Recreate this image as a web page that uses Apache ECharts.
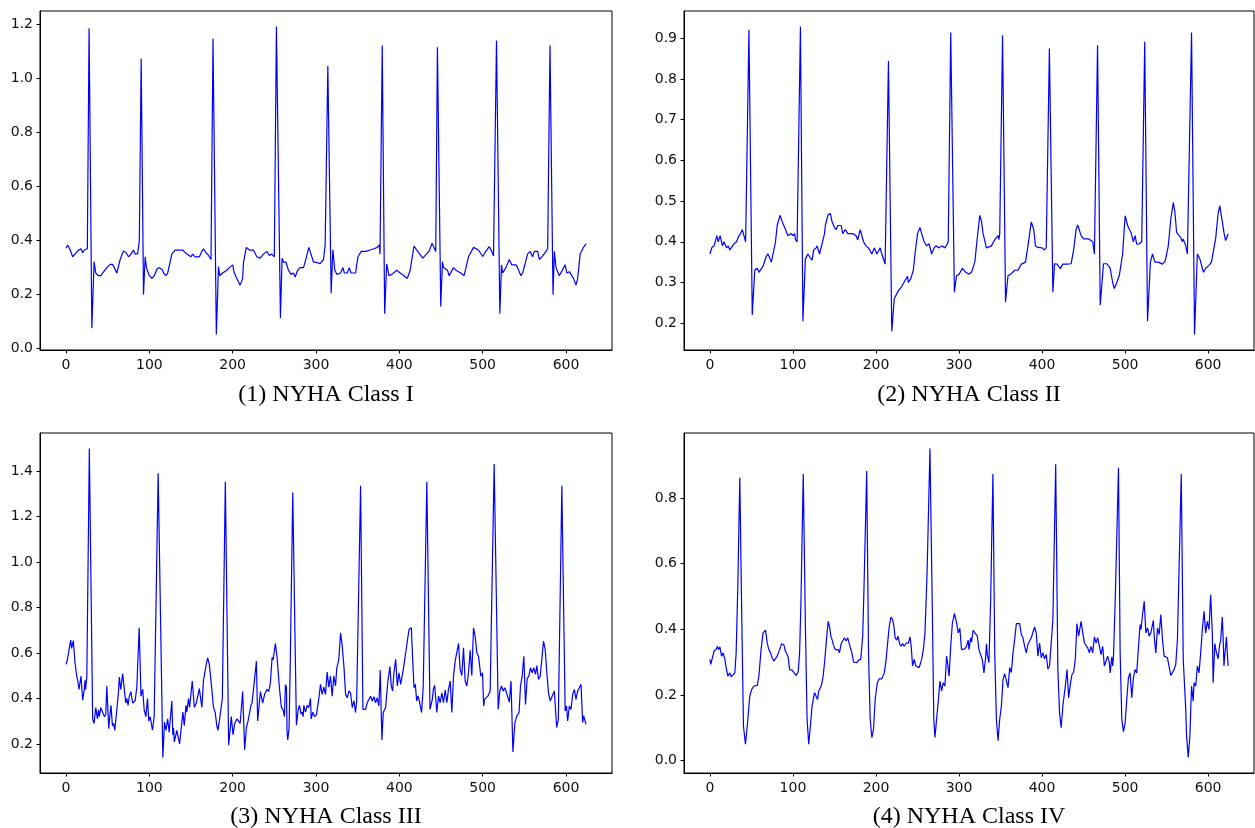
<!DOCTYPE html>
<html>
<head>
<meta charset="utf-8">
<title>ECG segments by NYHA class</title>
<script src="https://cdn.jsdelivr.net/npm/echarts@6/dist/echarts.min.js"></script>
<style>
  html, body { margin: 0; padding: 0; background: #fff; }
  #chart { width: 1255px; height: 828px; }
</style>
</head>
<body>
<div id="chart"></div>
<script>
// ECG amplitude traces, [sample index, amplitude]
const ecgClassI = [[0,0.372],[2,0.384],[5,0.366],[6,0.36],[8,0.34],[10,0.342],[14,0.362],[18,0.37],[20,0.355],[22,0.365],[24,0.37],[25.6,0.37],[27.7,1.186],[31,0.076],[33.7,0.322],[35.7,0.28],[39,0.27],[42,0.27],[44,0.28],[49,0.3],[53,0.312],[56,0.312],[61,0.28],[65,0.33],[69,0.362],[72,0.355],[75,0.34],[78,0.35],[81,0.365],[83,0.35],[86,0.352],[88,0.4],[90.2,1.073],[93,0.2],[95,0.34],[96.5,0.3],[100,0.27],[103,0.26],[106,0.27],[109,0.295],[112,0.3],[116,0.29],[117,0.28],[120,0.27],[122,0.28],[127,0.35],[131,0.365],[140,0.365],[145,0.35],[150,0.34],[152,0.35],[155,0.34],[160,0.34],[163,0.36],[165,0.37],[168,0.355],[171,0.345],[174,0.33],[176.4,1.147],[180.4,0.052],[183,0.304],[184.5,0.27],[188,0.28],[190,0.275],[193,0.29],[196,0.3],[198,0.295],[200,0.31],[202,0.28],[205,0.26],[209,0.235],[212,0.26],[213,0.32],[216.4,0.375],[220,0.365],[225,0.365],[229,0.34],[233,0.335],[237,0.35],[241,0.36],[244,0.345],[247,0.35],[250,0.34],[252.5,1.193],[257.3,0.113],[259.3,0.335],[261,0.32],[264,0.32],[267,0.29],[270,0.275],[273,0.28],[275,0.265],[278,0.29],[281,0.3],[285,0.3],[288.6,0.34],[291.4,0.375],[294,0.35],[297,0.32],[300,0.32],[305,0.315],[309,0.33],[311,0.384],[314.2,1.046],[318.2,0.205],[320.2,0.366],[322.6,0.29],[325,0.275],[329.5,0.28],[332.3,0.3],[334,0.28],[337.5,0.28],[340,0.3],[342,0.28],[347.5,0.28],[350.3,0.34],[354.3,0.36],[360,0.36],[364.7,0.365],[369.5,0.37],[373.5,0.375],[376,0.384],[376.8,0.35],[379.5,1.122],[382.4,0.129],[384.8,0.314],[387.6,0.27],[391,0.275],[396.8,0.29],[401,0.28],[405.6,0.27],[409.6,0.26],[413,0.29],[417.6,0.38],[421,0.365],[425.7,0.345],[428,0.335],[435.6,0.36],[439.3,0.39],[441,0.385],[443.7,0.36],[445.7,1.116],[449.7,0.156],[451.7,0.322],[453,0.3],[457.8,0.29],[459.8,0.27],[465,0.3],[468,0.29],[470,0.29],[473.7,0.28],[477.7,0.27],[483,0.34],[489,0.375],[495,0.365],[500,0.341],[503.8,0.36],[507.8,0.378],[511,0.36],[513,0.343],[516.6,1.141],[520.6,0.129],[522.6,0.31],[524,0.28],[527.9,0.3],[531.9,0.33],[535,0.31],[540,0.31],[541.9,0.3],[545.9,0.27],[548,0.28],[553.9,0.35],[557,0.36],[559.9,0.34],[562,0.36],[566,0.36],[568,0.33],[571,0.34],[576,0.36],[578,0.37],[580.8,1.122],[584.4,0.2],[586,0.36],[588,0.3],[592,0.27],[599,0.31],[601,0.28],[604,0.285],[609,0.26],[612,0.235],[614,0.26],[617,0.35],[621,0.375],[624,0.388]];

const ecgClassII = [[0,0.37],[2.4,0.386],[5,0.39],[8.4,0.415],[10,0.4],[12.4,0.415],[15,0.39],[17,0.4],[20,0.385],[22,0.39],[24,0.38],[29,0.395],[32,0.4],[35,0.415],[37,0.42],[39,0.43],[41,0.415],[43,0.4],[45,0.4],[47,0.921],[51,0.22],[54,0.33],[57,0.335],[59,0.325],[64,0.34],[68,0.365],[70,0.37],[74,0.35],[77,0.38],[79,0.4],[81,0.44],[84.4,0.465],[87,0.45],[90,0.435],[94,0.415],[98,0.42],[100,0.415],[102,0.42],[103,0.405],[105,0.4],[109,0.929],[112,0.205],[115,0.358],[118,0.37],[121,0.36],[123,0.355],[125,0.38],[128,0.385],[129,0.39],[132,0.37],[135,0.395],[138,0.42],[139,0.44],[142,0.465],[145,0.47],[147,0.45],[150,0.435],[152,0.43],[154,0.44],[158,0.44],[160,0.42],[163,0.43],[166,0.42],[172,0.42],[176,0.415],[178,0.405],[181,0.43],[185,0.4],[188,0.39],[191,0.385],[195,0.37],[198,0.385],[201,0.37],[205,0.385],[207,0.37],[211,0.345],[215,0.844],[219,0.18],[222,0.26],[227,0.28],[229,0.285],[231,0.29],[235,0.305],[238,0.315],[239,0.3],[242,0.31],[245,0.33],[247,0.37],[250,0.42],[253,0.435],[255,0.42],[258,0.4],[261,0.39],[264,0.395],[267,0.37],[270,0.385],[272,0.39],[276,0.385],[279,0.39],[283,0.385],[286,0.395],[287,0.4],[290,0.914],[294.4,0.276],[297,0.317],[300,0.32],[304,0.335],[308,0.325],[312,0.32],[315,0.325],[319,0.35],[322,0.41],[325,0.465],[327,0.45],[329,0.42],[333,0.385],[335,0.385],[339,0.39],[343,0.405],[347,0.415],[348,0.405],[349,0.42],[352.4,0.907],[356,0.252],[359,0.317],[362,0.32],[367,0.33],[371,0.33],[375,0.345],[380,0.35],[383,0.39],[387,0.449],[390,0.43],[392,0.39],[395,0.386],[400,0.385],[403,0.38],[405,0.386],[408.8,0.875],[413,0.276],[415,0.346],[418,0.345],[422,0.334],[425,0.345],[430,0.345],[435,0.346],[438,0.38],[441,0.43],[443,0.441],[447,0.415],[450,0.407],[456,0.407],[457,0.41],[461,0.4],[463,0.37],[466.8,0.883],[470,0.244],[474,0.346],[478,0.346],[482,0.335],[485,0.3],[487,0.285],[490,0.3],[493,0.317],[497,0.37],[500,0.464],[503,0.44],[507,0.423],[510,0.4],[512,0.415],[514,0.394],[517,0.395],[520,0.4],[523.6,0.891],[527,0.205],[530.4,0.35],[533,0.37],[536,0.35],[540,0.35],[545,0.345],[548,0.352],[549,0.36],[552,0.39],[555,0.456],[558,0.496],[560,0.472],[562,0.423],[565,0.415],[567,0.41],[569,0.4],[570,0.407],[573,0.39],[575,0.37],[580,0.914],[583.6,0.172],[587,0.37],[590,0.358],[593,0.335],[594.4,0.325],[597,0.335],[601,0.342],[604,0.35],[606,0.374],[609,0.407],[612,0.47],[614,0.488],[616,0.488],[617,0.45],[619,0.423],[621,0.403],[624,0.419]];

const ecgClassIII = [[0,0.55],[1.6,0.569],[3,0.565],[3.6,0.57],[5.6,0.657],[6.8,0.62],[8.8,0.655],[10.8,0.557],[12.8,0.5],[14,0.48],[15.6,0.44],[18,0.498],[20,0.392],[22,0.44],[22.8,0.48],[23.6,0.44],[25,0.5],[28,1.5],[32,0.308],[33.7,0.29],[35.7,0.36],[37.7,0.31],[39,0.35],[40,0.32],[41.7,0.36],[44,0.36],[46,0.32],[47.7,0.33],[49,0.455],[51.3,0.267],[52,0.3],[54,0.37],[55.7,0.28],[57,0.29],[58.5,0.26],[61,0.35],[63,0.43],[64,0.494],[65.7,0.44],[68,0.509],[69.7,0.45],[71.7,0.38],[73,0.4],[74.5,0.37],[76,0.41],[77.8,0.43],[80,0.38],[83,0.39],[85,0.45],[87.8,0.711],[89,0.55],[90,0.41],[92,0.44],[93.8,0.35],[95.8,0.32],[97.8,0.4],[99.4,0.3],[101,0.32],[103.8,0.26],[105.8,0.32],[110.6,1.391],[116.2,0.14],[118.2,0.296],[120,0.26],[122,0.31],[123.8,0.25],[127,0.389],[128.2,0.24],[129,0.27],[130,0.209],[133,0.26],[136.3,0.2],[138,0.2],[140.3,0.34],[141.9,0.28],[143.9,0.37],[145,0.34],[147,0.4],[148.3,0.36],[151.5,0.477],[154,0.36],[156.3,0.38],[160,0.443],[163,0.36],[165,0.48],[168.3,0.55],[170,0.579],[172,0.55],[175,0.44],[177,0.36],[179,0.34],[181,0.28],[182.4,0.26],[184,0.3],[186,0.3],[187.6,0.4],[191.2,1.353],[195.2,0.194],[198.4,0.32],[200.4,0.24],[202.4,0.29],[205,0.31],[207,0.3],[209,0.29],[212,0.43],[214.4,0.174],[216.4,0.27],[218.4,0.3],[222,0.37],[223.2,0.38],[225.3,0.45],[228.5,0.564],[230,0.301],[233.3,0.43],[236,0.38],[238.5,0.42],[241.3,0.44],[243.3,0.43],[245.3,0.47],[247.3,0.58],[248.5,0.57],[251.3,0.642],[253.3,0.58],[256,0.45],[258.5,0.36],[260.5,0.35],[262.1,0.32],[263.3,0.46],[264.5,0.45],[265.3,0.25],[266.1,0.217],[267.7,0.27],[269.3,0.6],[272.1,1.306],[276.5,0.282],[278.6,0.35],[280.2,0.37],[282.2,0.33],[283.4,0.34],[284.6,0.32],[285.4,0.37],[287.4,0.34],[289.4,0.37],[291.4,0.36],[293.4,0.4],[294.2,0.31],[296.2,0.34],[298.2,0.32],[300.6,0.33],[303.4,0.4],[305.4,0.462],[307.4,0.418],[309.4,0.45],[311.4,0.418],[313.4,0.516],[315.4,0.45],[317.4,0.498],[319.4,0.41],[321.4,0.5],[323.4,0.455],[325,0.535],[327.4,0.572],[329.5,0.689],[331.5,0.63],[333.5,0.542],[335.5,0.418],[337.5,0.403],[339.5,0.433],[341.5,0.423],[343.5,0.36],[345.5,0.39],[347.5,0.338],[348.8,0.39],[353.5,1.336],[356.3,0.352],[359.5,0.352],[361.5,0.381],[365.5,0.41],[367.5,0.389],[369.5,0.408],[371.5,0.381],[373.5,0.403],[375.5,0.367],[377.1,0.525],[379.1,0.217],[380.7,0.338],[383.5,0.36],[386.3,0.477],[388.7,0.54],[390.3,0.455],[391.9,0.433],[393.5,0.513],[395.6,0.572],[397.6,0.455],[399.6,0.513],[401.6,0.462],[404.8,0.528],[407.6,0.6],[409.6,0.652],[411.6,0.703],[414.4,0.711],[416,0.572],[417.6,0.447],[419.2,0.462],[420.8,0.389],[422.4,0.411],[424,0.389],[426.7,0.338],[428.7,0.455],[433,1.353],[436.8,0.352],[439.6,0.396],[440.8,0.44],[442.4,0.458],[445,0.338],[447,0.411],[449,0.381],[451,0.425],[453,0.381],[455,0.437],[457,0.381],[459,0.44],[461,0.477],[463,0.338],[465,0.498],[467,0.564],[469,0.557],[471,0.642],[473,0.528],[475,0.501],[477,0.623],[479,0.477],[481,0.455],[483,0.513],[485,0.612],[487,0.501],[489,0.711],[491,0.674],[493,0.601],[495,0.586],[497.8,0.498],[499.8,0.513],[501.2,0.367],[502.4,0.396],[504.4,0.403],[506.4,0.411],[509,0.433],[513.8,1.432],[518.6,0.352],[520.6,0.433],[522.6,0.455],[524.6,0.433],[526.6,0.447],[528.6,0.425],[530.6,0.425],[532,0.384],[534,0.477],[536.3,0.165],[538.7,0.294],[541,0.323],[543.7,0.338],[545.4,0.455],[547.4,0.498],[549.4,0.586],[551.4,0.374],[553.4,0.487],[555.4,0.498],[557.4,0.535],[559.4,0.513],[561.4,0.535],[563.4,0.506],[565,0.545],[567,0.484],[569,0.498],[571,0.572],[573,0.652],[575,0.616],[577,0.513],[579,0.425],[581,0.389],[583.4,0.389],[586,0.433],[588.8,0.272],[590.8,0.308],[595,1.336],[599,0.345],[600.6,0.367],[602,0.301],[604,0.367],[606,0.352],[608,0.418],[610,0.44],[612,0.396],[614,0.433],[616,0.447],[618,0.462],[620,0.294],[621.2,0.323],[622.8,0.316],[624,0.286]];

const ecgClassIV = [[0,0.308],[1,0.293],[2.4,0.288],[5,0.333],[8,0.34],[9,0.348],[10.4,0.338],[12,0.346],[14,0.318],[16,0.328],[18,0.308],[20,0.277],[21.6,0.257],[24,0.267],[25.6,0.255],[28,0.259],[30,0.267],[31.6,0.328],[33.6,0.531],[36,0.862],[38.4,0.429],[40.4,0.105],[42.8,0.05],[45,0.105],[48,0.196],[50.4,0.217],[53,0.227],[57,0.229],[59,0.257],[61.6,0.338],[64,0.389],[67,0.397],[69,0.358],[71,0.338],[73,0.328],[75,0.313],[77,0.303],[79,0.298],[81,0.318],[84,0.338],[86.4,0.356],[89,0.353],[91,0.333],[92.4,0.338],[94,0.318],[96,0.277],[99,0.275],[101,0.277],[104,0.259],[106.4,0.272],[108,0.328],[109.6,0.48],[112.4,0.873],[115,0.409],[117,0.126],[119,0.05],[121,0.105],[123,0.166],[126,0.207],[128,0.209],[129.6,0.186],[131,0.211],[134,0.227],[136.4,0.257],[138.4,0.308],[140.4,0.369],[142.4,0.424],[144,0.409],[145.6,0.379],[147,0.369],[149,0.35],[151,0.338],[154.4,0.338],[156,0.328],[158,0.356],[160,0.358],[162,0.374],[164,0.364],[166,0.374],[168,0.354],[170,0.348],[171,0.328],[173,0.3],[177,0.298],[179,0.306],[181.6,0.308],[184,0.379],[185.6,0.531],[188.8,0.882],[191,0.328],[193,0.126],[195,0.07],[197,0.095],[199,0.186],[201.6,0.237],[204,0.249],[207,0.249],[210,0.267],[212,0.303],[214.4,0.369],[216,0.409],[218,0.437],[220,0.429],[221.6,0.409],[223,0.374],[225,0.367],[226.4,0.379],[228.4,0.356],[230,0.348],[232,0.356],[234,0.348],[236.4,0.358],[239,0.358],[241,0.377],[242.4,0.348],[244,0.288],[246,0.308],[248,0.288],[250,0.293],[252,0.283],[253.6,0.28],[255,0.308],[257,0.338],[259,0.389],[261.6,0.581],[265,0.951],[268,0.429],[269.6,0.126],[271,0.07],[273,0.126],[275,0.181],[277,0.242],[279,0.212],[281,0.237],[283,0.227],[285,0.318],[286.4,0.293],[288,0.257],[290,0.348],[292,0.419],[294.4,0.448],[297,0.42],[299,0.389],[301,0.403],[303,0.338],[305,0.343],[307,0.34],[309,0.348],[311,0.367],[312,0.338],[314,0.374],[315,0.361],[317,0.397],[319,0.391],[322,0.379],[324,0.338],[326,0.338],[328,0.308],[330,0.267],[332,0.313],[333,0.356],[334,0.323],[336,0.298],[338,0.48],[340.8,0.873],[343,0.328],[345,0.126],[347,0.06],[349,0.126],[351,0.166],[353,0.247],[355,0.265],[357,0.265],[359,0.222],[361,0.283],[363,0.268],[365,0.328],[367,0.369],[369,0.417],[373,0.417],[375,0.384],[377,0.374],[379,0.348],[381,0.328],[383,0.354],[385,0.348],[387,0.374],[389,0.369],[391,0.407],[393,0.389],[395,0.318],[397,0.358],[399,0.313],[401,0.328],[403,0.31],[405,0.323],[407,0.279],[409,0.288],[411,0.288],[413,0.429],[416.4,0.903],[419,0.277],[421,0.146],[423,0.1],[425,0.166],[427,0.166],[428,0.227],[430,0.277],[432,0.191],[434,0.232],[436,0.262],[438,0.269],[440,0.308],[442,0.417],[444,0.379],[447,0.424],[449,0.389],[451,0.358],[453,0.356],[455,0.343],[457,0.328],[459,0.348],[461,0.328],[463,0.377],[465,0.358],[467,0.374],[469,0.377],[471,0.323],[473,0.348],[475,0.288],[477,0.288],[479,0.318],[481,0.298],[482,0.267],[484,0.316],[485,0.288],[486,0.318],[488,0.48],[492,0.892],[494,0.328],[496,0.126],[498,0.088],[500,0.115],[502,0.186],[504,0.252],[506,0.267],[508,0.191],[510,0.252],[512,0.277],[514,0.267],[516,0.343],[518,0.414],[519,0.399],[521,0.445],[523,0.485],[525,0.389],[527,0.404],[529,0.379],[531,0.389],[534,0.427],[535,0.379],[537,0.328],[539,0.404],[541,0.384],[543,0.445],[545,0.369],[547,0.318],[549,0.323],[551,0.313],[553,0.318],[555,0.259],[557,0.262],[559,0.277],[561,0.293],[563,0.369],[567.6,0.873],[570,0.308],[573,0.156],[574,0.075],[576,0.009],[578,0.075],[580,0.227],[582,0.181],[583,0.237],[585,0.227],[587,0.288],[589,0.267],[591,0.328],[593,0.399],[595,0.455],[597,0.389],[599,0.424],[601,0.399],[603,0.505],[605,0.389],[606,0.237],[608,0.356],[610,0.328],[612,0.31],[614,0.356],[615,0.363],[617,0.437],[618,0.378],[619,0.288],[620,0.318],[622,0.377],[624,0.288]];

// Panel titles and tick values
const panelTitles = ['(1) NYHA Class I', '(2) NYHA Class II', '(3) NYHA Class III', '(4) NYHA Class IV'];
const xTicks = [0, 100, 200, 300, 400, 500, 600];
const yTicksI = [0.0, 0.2, 0.4, 0.6, 0.8, 1.0, 1.2];
const yTicksII = [0.2, 0.3, 0.4, 0.5, 0.6, 0.7, 0.8, 0.9];
const yTicksIII = [0.2, 0.4, 0.6, 0.8, 1.0, 1.2, 1.4];
const yTicksIV = [0.0, 0.2, 0.4, 0.6, 0.8];

const traces = [ecgClassI, ecgClassII, ecgClassIII, ecgClassIV];
const yTickSets = [yTicksI, yTicksII, yTicksIII, yTicksIV];

// Plot-area boxes (px) for the 2x2 layout
const boxes = [
  { left: 40,  top: 11,  width: 572, height: 339 },
  { left: 684, top: 11,  width: 570, height: 339 },
  { left: 40,  top: 433, width: 572, height: 340 },
  { left: 684, top: 433, width: 570, height: 340 }
];
const titleY = [395, 395, 817, 817];

const tickFont = { fontFamily: 'DejaVu Sans', fontSize: 14, color: '#111' };

// 5% padding around the data range on both axes
function paddedRange(lo, hi) {
  const pad = (hi - lo) * 0.05;
  return [lo - pad, hi + pad];
}

const grids = [], xAxes = [], yAxes = [], series = [], graphics = [];

traces.forEach((trace, i) => {
  const xs = trace.map(p => p[0]);
  const ys = trace.map(p => p[1]);
  const [xMin, xMax] = paddedRange(0, Math.max(...xs));
  const [yMin, yMax] = paddedRange(Math.min(...ys), Math.max(...ys));
  const b = boxes[i];

  grids.push({
    left: b.left, top: b.top, width: b.width, height: b.height,
    show: true, borderColor: '#000', borderWidth: 1, backgroundColor: 'transparent',
    containLabel: false
  });

  xAxes.push({
    type: 'value', gridIndex: i, min: xMin, max: xMax,
    splitLine: { show: false },
    axisLine: { show: true, onZero: false, lineStyle: { color: '#000', width: 1 } },
    axisTick: { show: true, length: 3.5, lineStyle: { color: '#000' }, customValues: xTicks },
    axisLabel: Object.assign({ margin: 8, customValues: xTicks, formatter: v => String(Math.round(v)) }, tickFont)
  });

  const yt = yTickSets[i];
  yAxes.push({
    type: 'value', gridIndex: i, min: yMin, max: yMax,
    splitLine: { show: false },
    axisLine: { show: true, onZero: false, lineStyle: { color: '#000', width: 1 } },
    axisTick: { show: true, length: 3.5, lineStyle: { color: '#000' }, customValues: yt },
    axisLabel: Object.assign({ margin: 7, customValues: yt, formatter: v => v.toFixed(1) }, tickFont)
  });

  series.push({
    type: 'line', xAxisIndex: i, yAxisIndex: i,
    data: trace, showSymbol: false, symbol: 'none',
    lineStyle: { color: '#0000ff', width: 1.2 },
    clip: true, animation: false
  });

  graphics.push({
    type: 'text', x: b.left + b.width / 2, y: titleY[i],
    style: {
      text: panelTitles[i], fill: '#000',
      fontFamily: 'Liberation Serif', fontSize: 24,
      align: 'center', verticalAlign: 'middle'
    }
  });
});

const chart = echarts.init(document.getElementById('chart'), null, { renderer: 'canvas' });
chart.setOption({
  backgroundColor: '#fff',
  animation: false,
  grid: grids,
  xAxis: xAxes,
  yAxis: yAxes,
  series: series,
  graphic: graphics
});
</script>
</body>
</html>
